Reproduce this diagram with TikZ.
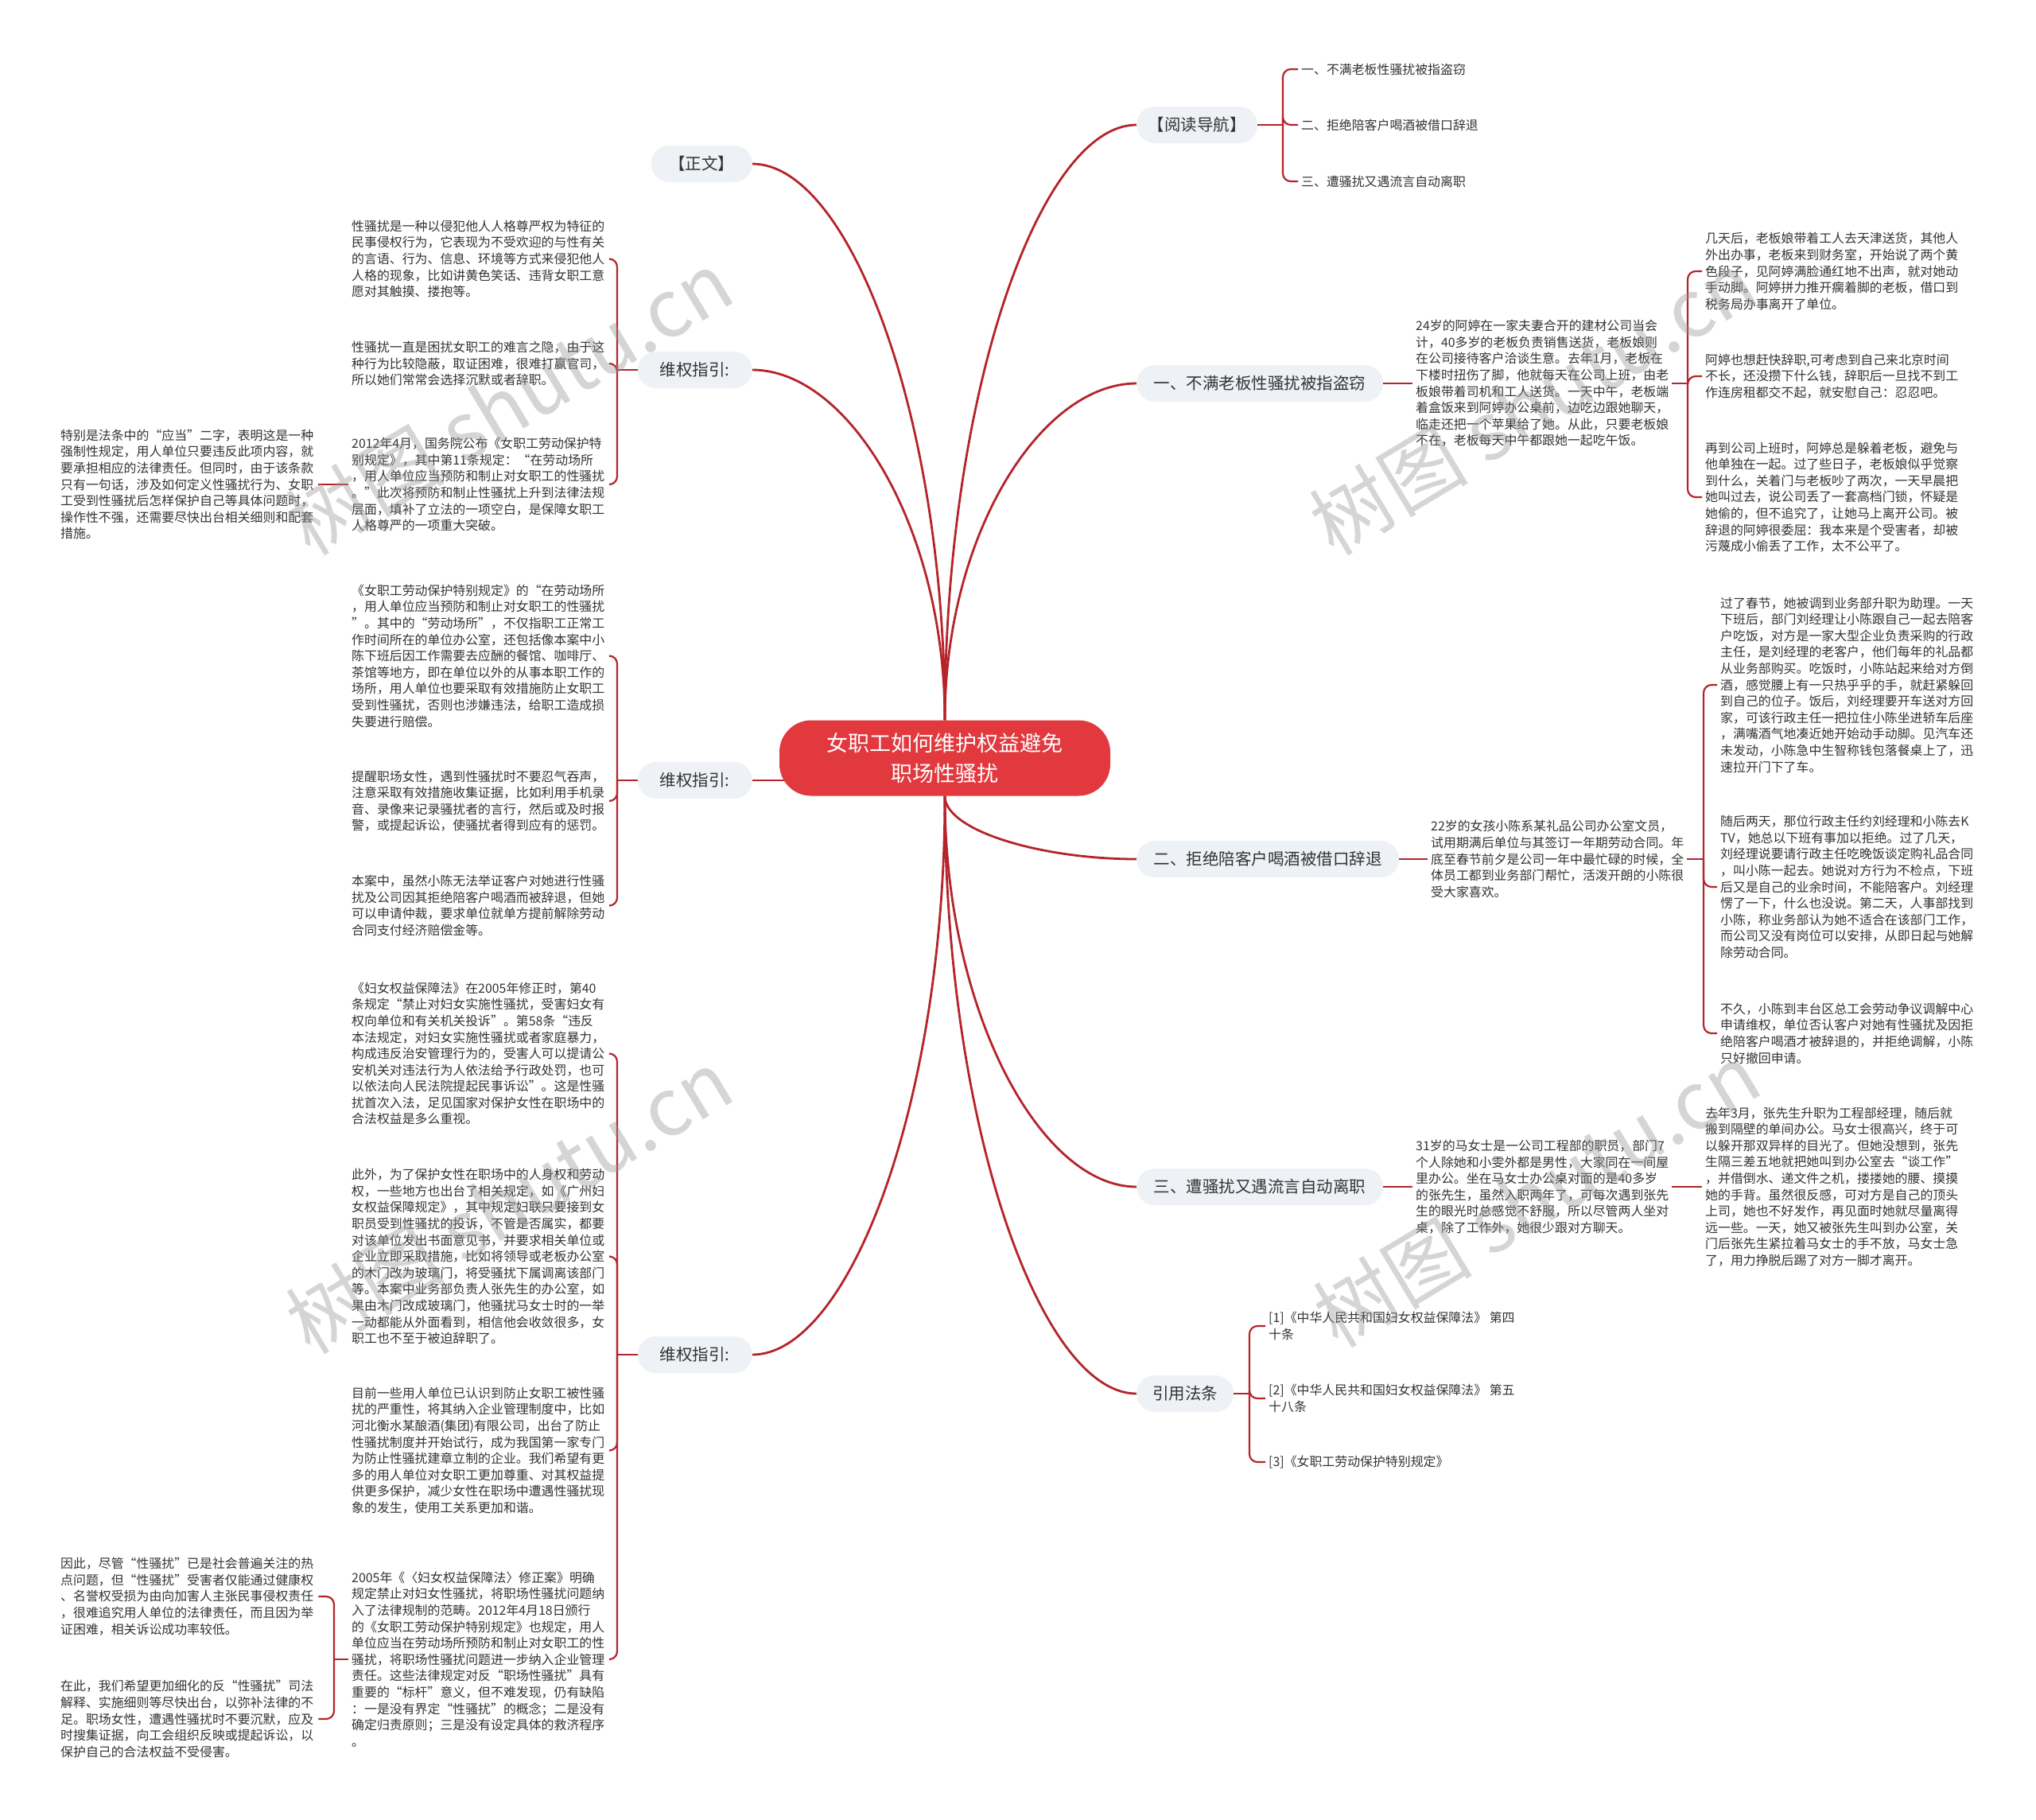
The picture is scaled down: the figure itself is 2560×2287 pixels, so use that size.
\documentclass[tikz,border=0pt]{standalone}
\usepackage{fontspec}
\setmainfont{Noto Sans CJK SC}
\usepackage{xcolor}
\usepackage{tikz}
\usetikzlibrary{backgrounds}

\definecolor{linkred}{RGB}{180,36,42}
\definecolor{rootred}{RGB}{225,57,62}
\definecolor{pillgray}{RGB}{238,241,245}
\definecolor{inkgray}{RGB}{51,51,51}
\definecolor{markgray}{RGB}{150,150,150}

\begin{document}
\begin{tikzpicture}[x=1pt, y=-1pt,
  rootbox/.style={fill=rootred, text=white, rounded corners=40pt,
    minimum width=416pt, minimum height=95pt, align=center,
    font=\fontsize{27}{37.5}\selectfont},
  pill/.style={fill=pillgray, text=inkgray, rounded corners=23pt,
    minimum height=46pt, inner xsep=6pt, inner ysep=0pt,
    font=\fontsize{20.5}{24}\selectfont},
  para/.style={text=inkgray, align=left, inner xsep=4pt, inner ysep=0pt,
    font=\fontsize{15.9}{20.6}\selectfont},
  parabox/.style={para, text width=320pt},
  link/.style={draw=linkred, line width=2.2pt},
  mainlink/.style={draw=linkred, line width=2.8pt},
  brace/.style={link, rounded corners=10pt},
  wmark/.style={text=markgray, opacity=0.4, rotate=31,
    font=\fontsize{100}{100}\selectfont}]

  \useasboundingbox (0,0) rectangle (2560,2287);

  % 1. Tema centrale
  \node[rootbox] (root) at (1188,953) {女职工如何维护权益避免\\职场性骚扰};

  % 2. Rami a sinistra
  \node[pill, anchor=east, minimum width=127pt] (zw) at (946,206) {【正文】};
  \node[pill, anchor=east, minimum width=144pt] (wq1) at (946,465) {维权指引:};
  \node[pill, anchor=east, minimum width=144pt] (wq2) at (946,981) {维权指引:};
  \node[pill, anchor=east, minimum width=144pt] (wq3) at (946,1703) {维权指引:};

  % 3. Rami a destra
  \node[pill, anchor=west, minimum width=152pt] (nav) at (1429,157) {【阅读导航】};
  \node[pill, anchor=west, minimum width=310pt] (ca) at (1429,482) {一、不满老板性骚扰被指盗窃};
  \node[pill, anchor=west, minimum width=330pt] (cb) at (1429,1080) {二、拒绝陪客户喝酒被借口辞退};
  \node[pill, anchor=west, minimum width=310pt] (cc) at (1429,1492) {三、遭骚扰又遇流言自动离职};
  \node[pill, anchor=west, minimum width=122pt] (law) at (1429,1752) {引用法条};

  % Collegamenti dal tema centrale (sotto i nodi)
  \begin{scope}[on background layer]
    \fill[white] (0,0) rectangle (2560,2287);
    \draw[mainlink] (root.north) .. controls (1188,521) and (1067,206) .. (zw.east);
    \draw[mainlink] (root.north) .. controls (1188,663) and (1067,465) .. (wq1.east);
    \draw[mainlink] (root.center |- wq2.east) -- (wq2.east);
    \draw[mainlink] (root.south) .. controls (1188,1387) and (1067,1703) .. (wq3.east);
    \draw[mainlink] (root.north) .. controls (1188,494) and (1308,157) .. (nav.west);
    \draw[mainlink] (root.north) .. controls (1188,673) and (1308,482) .. (ca.west);
    \draw[mainlink] (root.south) .. controls (1188,1044) and (1308,1080) .. (cb.west);
    \draw[mainlink] (root.south) .. controls (1188,1271) and (1308,1492) .. (cc.west);
    \draw[mainlink] (root.south) .. controls (1188,1414) and (1308,1752) .. (law.west);
  \end{scope}

  % 4. Guida alla lettura
  \node[para, anchor=west] (nav1) at (1632,87) {一、不满老板性骚扰被指盗窃};
  \node[para, anchor=west] (nav2) at (1632,157) {二、拒绝陪客户喝酒被借口辞退};
  \node[para, anchor=west] (nav3) at (1632,228) {三、遭骚扰又遇流言自动离职};
  \coordinate (navx) at (1613,157);
  \draw[link] (nav.east) -- (navx);
  \foreach \k in {nav1,nav2,nav3}
    \draw[brace] (navx) |- (\k.west);

  % 5. Primo caso
  \node[para, anchor=west] (ca1) at (1776,482) {24岁的阿婷在一家夫妻合开的建材公司当会\\计，40多岁的老板负责销售送货，老板娘则\\在公司接待客户洽谈生意。去年1月，老板在\\下楼时扭伤了脚，他就每天在公司上班，由老\\板娘带着司机和工人送货。一天中午，老板端\\着盒饭来到阿婷办公桌前，边吃边跟她聊天，\\临走还把一个苹果给了她。从此，只要老板娘\\不在，老板每天中午都跟她一起吃午饭。};
  \node[para, anchor=west] (ca2) at (2140,341) {几天后，老板娘带着工人去天津送货，其他人\\外出办事，老板来到财务室，开始说了两个黄\\色段子，见阿婷满脸通红地不出声，就对她动\\手动脚。阿婷拼力推开瘸着脚的老板，借口到\\税务局办事离开了单位。};
  \node[para, anchor=west] (ca3) at (2140,473) {阿婷也想赶快辞职,可考虑到自己来北京时间\\不长，还没攒下什么钱，辞职后一旦找不到工\\作连房租都交不起，就安慰自己：忍忍吧。};
  \node[para, anchor=west] (ca4) at (2140,625) {再到公司上班时，阿婷总是躲着老板，避免与\\他单独在一起。过了些日子，老板娘似乎觉察\\到什么，关着门与老板吵了两次，一天早晨把\\她叫过去，说公司丢了一套高档门锁，怀疑是\\她偷的，但不追究了，让她马上离开公司。被\\辞退的阿婷很委屈：我本来是个受害者，却被\\污蔑成小偷丢了工作，太不公平了。};
  \draw[link] (ca.east) -- (ca1.west);
  \coordinate (ca1x) at (2122,482);
  \draw[link] (ca1.east) -- (ca1x);
  \foreach \k in {ca2,ca3,ca4}
    \draw[brace] (ca1x) |- (\k.west);

  % 6. Secondo caso
  \node[para, anchor=west] (cb1) at (1795,1080) {22岁的女孩小陈系某礼品公司办公室文员，\\试用期满后单位与其签订一年期劳动合同。年\\底至春节前夕是公司一年中最忙碌的时候，全\\体员工都到业务部门帮忙，活泼开朗的小陈很\\受大家喜欢。};
  \node[para, anchor=west] (cb2) at (2159,861) {过了春节，她被调到业务部升职为助理。一天\\下班后，部门刘经理让小陈跟自己一起去陪客\\户吃饭，对方是一家大型企业负责采购的行政\\主任，是刘经理的老客户，他们每年的礼品都\\从业务部购买。吃饭时，小陈站起来给对方倒\\酒，感觉腰上有一只热乎乎的手，就赶紧躲回\\到自己的位子。饭后，刘经理要开车送对方回\\家，可该行政主任一把拉住小陈坐进轿车后座\\，满嘴酒气地凑近她开始动手动脚。见汽车还\\未发动，小陈急中生智称钱包落餐桌上了，迅\\速拉开门下了车。};
  \node[para, anchor=west] (cb3) at (2159,1115) {随后两天，那位行政主任约刘经理和小陈去K\\TV，她总以下班有事加以拒绝。过了几天，\\刘经理说要请行政主任吃晚饭谈定购礼品合同\\，叫小陈一起去。她说对方行为不检点，下班\\后又是自己的业余时间，不能陪客户。刘经理\\愣了一下，什么也没说。第二天，人事部找到\\小陈，称业务部认为她不适合在该部门工作，\\而公司又没有岗位可以安排，从即日起与她解\\除劳动合同。};
  \node[para, anchor=west] (cb4) at (2159,1299) {不久，小陈到丰台区总工会劳动争议调解中心\\申请维权，单位否认客户对她有性骚扰及因拒\\绝陪客户喝酒才被辞退的，并拒绝调解，小陈\\只好撤回申请。};
  \draw[link] (cb.east) -- (cb1.west);
  \coordinate (cb1x) at (2142,1080);
  \draw[link] (cb1.east) -- (cb1x);
  \foreach \k in {cb2,cb3,cb4}
    \draw[brace] (cb1x) |- (\k.west);

  % 7. Terzo caso
  \node[para, anchor=west] (cc1) at (1776,1492) {31岁的马女士是一公司工程部的职员，部门7\\个人除她和小雯外都是男性，大家同在一间屋\\里办公。坐在马女士办公桌对面的是40多岁\\的张先生，虽然入职两年了，可每次遇到张先\\生的眼光时总感觉不舒服，所以尽管两人坐对\\桌，除了工作外，她很少跟对方聊天。};
  \node[para, anchor=west] (cc2) at (2140,1492) {去年3月，张先生升职为工程部经理，随后就\\搬到隔壁的单间办公。马女士很高兴，终于可\\以躲开那双异样的目光了。但她没想到，张先\\生隔三差五地就把她叫到办公室去“谈工作”\\，并借倒水、递文件之机，搂搂她的腰、摸摸\\她的手背。虽然很反感，可对方是自己的顶头\\上司，她也不好发作，再见面时她就尽量离得\\远一些。一天，她又被张先生叫到办公室，关\\门后张先生紧拉着马女士的手不放，马女士急\\了，用力挣脱后踢了对方一脚才离开。};
  \draw[link] (cc.east) -- (cc1.west);
  \draw[link] (cc1.east) -- (cc2.west);

  % 8. Norme citate
  \node[para, anchor=west] (law1) at (1591,1667) {[1]《中华人民共和国妇女权益保障法》 第四\\十条};
  \node[para, anchor=west] (law2) at (1591,1758) {[2]《中华人民共和国妇女权益保障法》 第五\\十八条};
  \node[para, anchor=west] (law3) at (1591,1838) {[3]《女职工劳动保护特别规定》};
  \coordinate (lawx) at (1571,1752);
  \draw[link] (law.east) -- (lawx);
  \foreach \k in {law1,law2,law3}
    \draw[brace] (lawx) |- (\k.west);

  % 9. Indicazioni (in alto a sinistra)
  \node[parabox, anchor=west] (wq1a) at (438,325.5) {性骚扰是一种以侵犯他人人格尊严权为特征的\\民事侵权行为，它表现为不受欢迎的与性有关\\的言语、行为、信息、环境等方式来侵犯他人\\人格的现象，比如讲黄色笑话、违背女职工意\\愿对其触摸、搂抱等。};
  \node[parabox, anchor=west] (wq1b) at (438,457) {性骚扰一直是困扰女职工的难言之隐，由于这\\种行为比较隐蔽，取证困难，很难打赢官司，\\所以她们常常会选择沉默或者辞职。};
  \node[parabox, anchor=west] (wq1c) at (438,609) {2012年4月，国务院公布《女职工劳动保护特\\别规定》，其中第11条规定：“在劳动场所\\，用人单位应当预防和制止对女职工的性骚扰\\。”此次将预防和制止性骚扰上升到法律法规\\层面，填补了立法的一项空白，是保障女职工\\人格尊严的一项重大突破。};
  \node[parabox, anchor=west] (wq1d) at (72,609) {特别是法条中的“应当”二字，表明这是一种\\强制性规定，用人单位只要违反此项内容，就\\要承担相应的法律责任。但同时，由于该条款\\只有一句话，涉及如何定义性骚扰行为、女职\\工受到性骚扰后怎样保护自己等具体问题时，\\操作性不强，还需要尽快出台相关细则和配套\\措施。};
  \coordinate (wq1x) at (776,465);
  \draw[link] (wq1.west) -- (wq1x);
  \foreach \k in {wq1a,wq1b,wq1c}
    \draw[brace] (wq1x) |- (\k.east);
  \draw[link] (wq1c.west) -- (wq1d.east);

  % 10. Indicazioni (al centro)
  \node[parabox, anchor=west] (wq2a) at (438,824.5) {《女职工劳动保护特别规定》的“在劳动场所\\，用人单位应当预防和制止对女职工的性骚扰\\”。其中的“劳动场所”，不仅指职工正常工\\作时间所在的单位办公室，还包括像本案中小\\陈下班后因工作需要去应酬的餐馆、咖啡厅、\\茶馆等地方，即在单位以外的从事本职工作的\\场所，用人单位也要采取有效措施防止女职工\\受到性骚扰，否则也涉嫌违法，给职工造成损\\失要进行赔偿。};
  \node[parabox, anchor=west] (wq2b) at (438,1007) {提醒职场女性，遇到性骚扰时不要忍气吞声，\\注意采取有效措施收集证据，比如利用手机录\\音、录像来记录骚扰者的言行，然后或及时报\\警，或提起诉讼，使骚扰者得到应有的惩罚。};
  \node[parabox, anchor=west] (wq2c) at (438,1138.5) {本案中，虽然小陈无法举证客户对她进行性骚\\扰及公司因其拒绝陪客户喝酒而被辞退，但她\\可以申请仲裁，要求单位就单方提前解除劳动\\合同支付经济赔偿金等。};
  \coordinate (wq2x) at (776,981);
  \draw[link] (wq2.west) -- (wq2x);
  \foreach \k in {wq2a,wq2b,wq2c}
    \draw[brace] (wq2x) |- (\k.east);

  % 11. Indicazioni (in basso)
  \node[parabox, anchor=west] (wq3a) at (438,1324.5) {《妇女权益保障法》在2005年修正时，第40\\条规定“禁止对妇女实施性骚扰，受害妇女有\\权向单位和有关机关投诉”。第58条“违反\\本法规定，对妇女实施性骚扰或者家庭暴力，\\构成违反治安管理行为的，受害人可以提请公\\安机关对违法行为人依法给予行政处罚，也可\\以依法向人民法院提起民事诉讼”。这是性骚\\扰首次入法，足见国家对保护女性在职场中的\\合法权益是多么重视。};
  \node[parabox, anchor=west] (wq3b) at (438,1579.5) {此外，为了保护女性在职场中的人身权和劳动\\权，一些地方也出台了相关规定，如《广州妇\\女权益保障规定》，其中规定妇联只要接到女\\职员受到性骚扰的投诉，不管是否属实，都要\\对该单位发出书面意见书，并要求相关单位或\\企业立即采取措施，比如将领导或老板办公室\\的木门改为玻璃门，将受骚扰下属调离该部门\\等。本案中业务部负责人张先生的办公室，如\\果由木门改成玻璃门，他骚扰马女士时的一举\\一动都能从外面看到，相信他会收敛很多，女\\职工也不至于被迫辞职了。};
  \node[parabox, anchor=west] (wq3c) at (438,1823.5) {目前一些用人单位已认识到防止女职工被性骚\\扰的严重性，将其纳入企业管理制度中，比如\\河北衡水某酿酒(集团)有限公司，出台了防止\\性骚扰制度并开始试行，成为我国第一家专门\\为防止性骚扰建章立制的企业。我们希望有更\\多的用人单位对女职工更加尊重、对其权益提\\供更多保护，减少女性在职场中遭遇性骚扰现\\象的发生，使用工关系更加和谐。};
  \node[parabox, anchor=west] (wq3d) at (438,2086) {2005年《〈妇女权益保障法〉修正案》明确\\规定禁止对妇女性骚扰，将职场性骚扰问题纳\\入了法律规制的范畴。2012年4月18日颁行\\的《女职工劳动保护特别规定》也规定，用人\\单位应当在劳动场所预防和制止对女职工的性\\骚扰，将职场性骚扰问题进一步纳入企业管理\\责任。这些法律规定对反“职场性骚扰”具有\\重要的“标杆”意义，但不难发现，仍有缺陷\\：一是没有界定“性骚扰”的概念；二是没有\\确定归责原则；三是没有设定具体的救济程序\\。};
  \node[parabox, anchor=west] (wq3e) at (72,2007) {因此，尽管“性骚扰”已是社会普遍关注的热\\点问题，但“性骚扰”受害者仅能通过健康权\\、名誉权受损为由向加害人主张民事侵权责任\\，很难追究用人单位的法律责任，而且因为举\\证困难，相关诉讼成功率较低。};
  \node[parabox, anchor=west] (wq3f) at (72,2161) {在此，我们希望更加细化的反“性骚扰”司法\\解释、实施细则等尽快出台，以弥补法律的不\\足。职场女性，遭遇性骚扰时不要沉默，应及\\时搜集证据，向工会组织反映或提起诉讼，以\\保护自己的合法权益不受侵害。};
  \coordinate (wq3x) at (776,1703);
  \draw[link] (wq3.west) -- (wq3x);
  \foreach \k in {wq3a,wq3b,wq3c,wq3d}
    \draw[brace] (wq3x) |- (\k.east);
  \coordinate (wq3dx) at (420,2086);
  \draw[link] (wq3d.west) -- (wq3dx);
  \foreach \k in {wq3e,wq3f}
    \draw[brace] (wq3dx) |- (\k.east);

  % 12. Filigrana
  \node[wmark] (wm1) at (640,506) {树图 shutu.cn};
  \node[wmark] (wm2) at (1927,506) {树图 shutu.cn};
  \node[wmark] (wm3) at (640,1510) {树图 shutu.cn};
  \node[wmark] (wm4) at (1932,1502) {树图 shutu.cn};

\end{tikzpicture}
\end{document}
